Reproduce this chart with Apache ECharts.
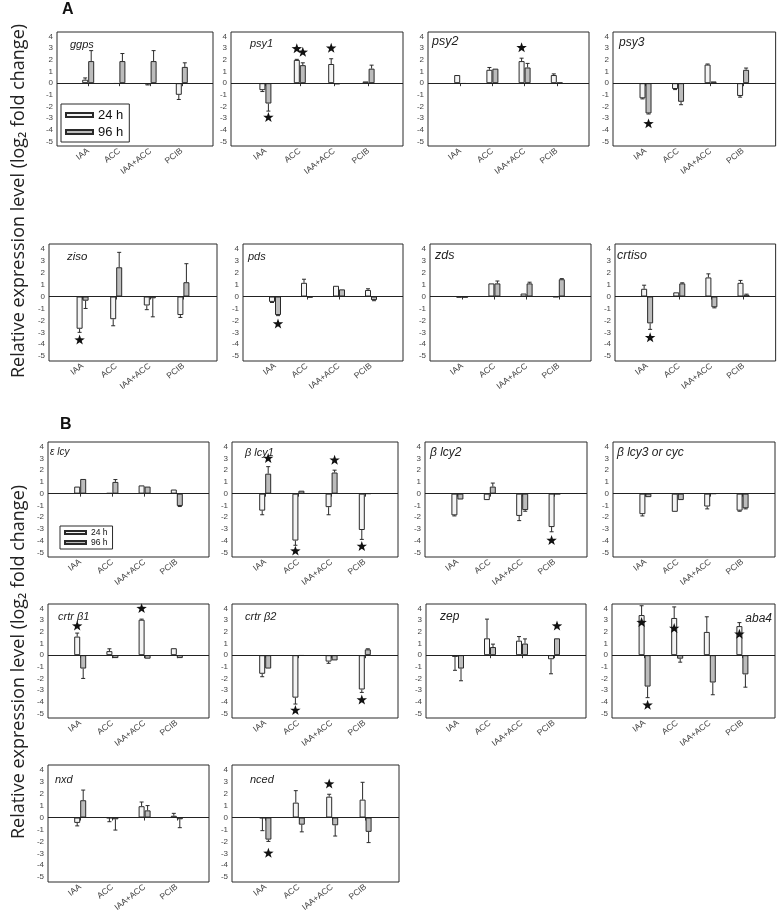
<!DOCTYPE html>
<html><head><meta charset="utf-8">
<script src="https://cdn.jsdelivr.net/npm/echarts@6/dist/echarts.min.js"></script>
<style>html,body{margin:0;padding:0;background:#fff}#c{width:778px;height:916px}</style>
</head><body><div id="c"></div>
<script>
// ---------- data ----------
const categories = ['', 'IAA', 'ACC', 'IAA+ACC', 'PCIB', ''];
const seriesNames = ['24 h', '96 h'];
const yTicks = [-5, -4, -3, -2, -1, 0, 1, 2, 3, 4];

// Panel A
const ggps24 = [0.3, -0.05, -0.1, -1.0],   ggps24Err = [0.15, 0, 0.05, 0.4];
const ggps96 = [1.9, 1.9, 1.9, 1.4],       ggps96Err = [0.9, 0.65, 0.9, 0.35];
const ggpsStar24 = [null, null, null, null], ggpsStar96 = [null, null, null, null];

const psy124 = [-0.6, 2.0, 1.65, 0.15],    psy124Err = [0.12, 0.05, 0.45, 0];
const psy196 = [-1.75, 1.55, -0.1, 1.25],  psy196Err = [0.65, 0.2, 0, 0.3];
const psy1Star24 = [null, 2.95, 3.0, null], psy1Star96 = [-2.95, 2.65, null, null];

const psy224 = [0.7, 1.15, 1.9, 0.7],      psy224Err = [0, 0.2, 0.25, 0.1];
const psy296 = [-0.05, 1.25, 1.35, 0.05],  psy296Err = [0, 0, 0.35, 0];
const psy2Star24 = [null, null, 3.05, null], psy2Star96 = [null, null, null, null];

const psy324 = [-1.3, -0.5, 1.6, -1.1],    psy324Err = [0.05, 0.05, 0.05, 0.1];
const psy396 = [-2.6, -1.6, 0.15, 1.15],   psy396Err = [0.05, 0.25, 0, 0.15];
const psy3Star24 = [null, null, null, null], psy3Star96 = [-3.5, null, null, null];

const ziso24 = [-2.7, -1.9, -0.75, -1.55], ziso24Err = [0.3, 0.55, 0.35, 0.2];
const ziso96 = [-0.35, 2.45, -0.15, 1.2],  ziso96Err = [0.65, 1.25, 1.55, 1.55];
const zisoStar24 = [-3.65, null, null, null], zisoStar96 = [null, null, null, null];

const pds24 = [-0.45, 1.15, 0.9, 0.55],    pds24Err = [0.05, 0.3, 0, 0.1];
const pds96 = [-1.55, -0.1, 0.6, -0.3],    pds96Err = [0.05, 0, 0, 0.05];
const pdsStar24 = [null, null, null, null], pdsStar96 = [-2.3, null, null, null];

const zds24 = [-0.1, 1.1, 0.25, -0.05],    zds24Err = [0, 0, 0, 0];
const zds96 = [-0.1, 1.1, 1.1, 1.45],      zds96Err = [0, 0.2, 0.1, 0.05];
const zdsStar24 = [null, null, null, null], zdsStar96 = [null, null, null, null];

const crtiso24 = [0.65, 0.35, 1.6, 1.15],  crtiso24Err = [0.3, 0, 0.3, 0.2];
const crtiso96 = [-2.25, 1.1, -0.9, 0.15], crtiso96Err = [0.5, 0.05, 0.05, 0.05];
const crtisoStar24 = [null, null, null, null], crtisoStar96 = [-3.45, null, null, null];

// Panel B
const elcy24 = [0.6, 0.05, 0.7, 0.35],     elcy24Err = [0, 0, 0, 0];
const elcy96 = [1.25, 1.0, 0.6, -1.05],    elcy96Err = [0, 0.2, 0, 0.05];
const elcyStar24 = [null, null, null, null], elcyStar96 = [null, null, null, null];

const blcy124 = [-1.45, -4.0, -1.15, -3.1], blcy124Err = [0.35, 0.4, 0.65, 0.8];
const blcy196 = [1.7, 0.25, 1.8, 0],        blcy196Err = [0.6, 0, 0.2, 0];
const blcy1Star24 = [null, -4.9, null, -4.5], blcy1Star96 = [3.0, null, 2.85, null];

const blcy224 = [-1.85, -0.55, -1.9, -2.85], blcy224Err = [0.05, 0, 0.4, 0.4];
const blcy296 = [-0.5, 0.6, -1.4, -0.05],    blcy296Err = [0, 0.3, 0.1, 0];
const blcy2Star24 = [null, null, null, -4.0], blcy2Star96 = [null, null, null, null];

const blcy324 = [-1.75, -1.55, -1.1, -1.45], blcy324Err = [0.15, 0, 0.2, 0.05];
const blcy396 = [-0.3, -0.55, 0, -1.25],     blcy396Err = [0, 0, 0, 0.05];
const blcy3Star24 = [null, null, null, null], blcy3Star96 = [null, null, null, null];

const crtrb124 = [1.6, 0.35, 3.05, 0.6],     crtrb124Err = [0.3, 0.2, 0.05, 0];
const crtrb196 = [-1.15, -0.25, -0.3, -0.25], crtrb196Err = [0.85, 0, 0, 0];
const crtrb1Star24 = [2.5, null, 4.0, null], crtrb1Star96 = [null, null, null, null];

const crtrb224 = [-1.6, -3.65, -0.55, -2.95], crtrb224Err = [0.25, 0.55, 0.15, 0.25];
const crtrb296 = [-1.15, -0.05, -0.45, 0.5],  crtrb296Err = [0, 0, 0, 0.05];
const crtrb2Star24 = [null, -4.75, null, -3.85], crtrb2Star96 = [null, null, null, null];

const zep24 = [-0.15, 1.45, 1.25, -0.35],    zep24Err = [1.15, 1.65, 0.35, 1.25];
const zep96 = [-1.15, 0.7, 1.0, 1.45],       zep96Err = [1.05, 0.25, 0.4, 0];
const zepStar24 = [null, null, null, null],  zepStar96 = [null, null, null, 2.5];

const aba424 = [3.45, 3.2, 2.0, 2.5],        aba424Err = [0.8, 0.95, 1.3, 0.3];
const aba496 = [-2.7, -0.3, -2.35, -1.65],   aba496Err = [0.95, 0.3, 1.05, 1.1];
const aba4Star24 = [2.8, 2.3, null, 1.8],    aba4Star96 = [-4.3, null, null, null];

const nxd24 = [-0.45, -0.05, 0.95, 0.15],    nxd24Err = [0.25, 0.3, 0.35, 0.2];
const nxd96 = [1.45, -0.15, 0.6, -0.15],     nxd96Err = [0.85, 0.9, 0.4, 0.7];
const nxdStar24 = [null, null, null, null],  nxdStar96 = [null, null, null, null];

const nced24 = [-0.05, 1.25, 1.75, 1.5],     nced24Err = [1.05, 1.0, 0.2, 1.45];
const nced96 = [-1.85, -0.6, -0.65, -1.2],   nced96Err = [0.15, 0.6, 0.9, 0.9];
const ncedStar24 = [null, null, 2.8, null],  ncedStar96 = [-3.0, null, null, null];

// ---------- panels ----------
const panels = [
  ['ggps', ggps24, ggps24Err, ggps96, ggps96Err, ggpsStar24, ggpsStar96],
  ['psy1', psy124, psy124Err, psy196, psy196Err, psy1Star24, psy1Star96],
  ['psy2', psy224, psy224Err, psy296, psy296Err, psy2Star24, psy2Star96],
  ['psy3', psy324, psy324Err, psy396, psy396Err, psy3Star24, psy3Star96],
  ['ziso', ziso24, ziso24Err, ziso96, ziso96Err, zisoStar24, zisoStar96],
  ['pds', pds24, pds24Err, pds96, pds96Err, pdsStar24, pdsStar96],
  ['zds', zds24, zds24Err, zds96, zds96Err, zdsStar24, zdsStar96],
  ['crtiso', crtiso24, crtiso24Err, crtiso96, crtiso96Err, crtisoStar24, crtisoStar96],
  ['ε lcy', elcy24, elcy24Err, elcy96, elcy96Err, elcyStar24, elcyStar96],
  ['β lcy1', blcy124, blcy124Err, blcy196, blcy196Err, blcy1Star24, blcy1Star96],
  ['β lcy2', blcy224, blcy224Err, blcy296, blcy296Err, blcy2Star24, blcy2Star96],
  ['β lcy3 or cyc', blcy324, blcy324Err, blcy396, blcy396Err, blcy3Star24, blcy3Star96],
  ['crtr β1', crtrb124, crtrb124Err, crtrb196, crtrb196Err, crtrb1Star24, crtrb1Star96],
  ['crtr β2', crtrb224, crtrb224Err, crtrb296, crtrb296Err, crtrb2Star24, crtrb2Star96],
  ['zep', zep24, zep24Err, zep96, zep96Err, zepStar24, zepStar96],
  ['aba4', aba424, aba424Err, aba496, aba496Err, aba4Star24, aba4Star96],
  ['nxd', nxd24, nxd24Err, nxd96, nxd96Err, nxdStar24, nxdStar96],
  ['nced', nced24, nced24Err, nced96, nced96Err, ncedStar24, ncedStar96]
];

// layout: [left, top, width, height, labelDx, labelDy, labelSize, alignRight]
const layout = [
  [57, 32, 156, 114, 13, 7, 11],
  [231, 32, 172, 114, 19, 6, 11],
  [428, 32, 161, 114, 4, 3, 12.5],
  [613, 32, 163, 114, 6, 5, 12],
  [49, 244, 168, 117, 18, 7, 11.5],
  [243, 244, 160, 117, 5, 7, 11],
  [430, 244, 161, 117, 5, 5, 12.5],
  [615, 244, 161, 117, 2, 5, 12.5],
  [48, 442, 161, 115, 2, 5, 10],
  [232, 442, 166, 115, 13, 5, 11],
  [425, 442, 162, 115, 5, 5, 12],
  [613, 442, 162, 115, 4, 5, 12],
  [48, 604, 161, 114, 10, 7, 11],
  [232, 604, 166, 114, 13, 7, 11],
  [426, 604, 160, 114, 14, 7, 12],
  [612, 604, 163, 114, -3, 9, 12, true],
  [48, 765, 161, 117, 7, 9, 11],
  [232, 765, 167, 117, 18, 9, 11]
];

const Y_MIN = -5.4, Y_MAX = 4.4, BAR_W = 6;
const WHITE = '#f4f4f4', GREY = '#bcbcbc', EDGE = '#2a2a2a';

function pad(arr) { return [null].concat(arr.map(v => v), [null]); }

function starPoints(cx, cy, R, r) {
  const pts = [];
  for (let k = 0; k < 10; k++) {
    const a = -Math.PI / 2 + k * Math.PI / 5;
    const rr = k % 2 === 0 ? R : r;
    pts.push([cx + rr * Math.cos(a), cy + rr * Math.sin(a)]);
  }
  return pts;
}

const grids = [], xAxes = [], yAxes = [], series = [], titles = [];
panels.forEach((p, i) => {
  const [name, v24, e24, v96, e96, s24, s96] = p;
  const L = layout[i];
  grids.push({ left: L[0], top: L[1], width: L[2], height: L[3], show: true,
    borderColor: EDGE, borderWidth: 1, backgroundColor: '#fff' });
  xAxes.push({ type: 'category', gridIndex: i, data: categories, boundaryGap: false,
    axisLine: { show: false },
    axisTick: { show: true, length: 3, interval: (idx) => categories[idx] !== '', lineStyle: { color: '#333' } },
    axisLabel: { interval: 0, rotate: 38, fontSize: 8.5, color: '#444', margin: 4, fontFamily: 'Arial' },
    splitLine: { show: false } });
  yAxes.push({ type: 'value', gridIndex: i, min: Y_MIN, max: Y_MAX,
    axisLine: { show: false }, axisTick: { show: false }, splitLine: { show: false },
    axisLabel: { customValues: yTicks, fontSize: 8, color: '#444', margin: 4, fontFamily: 'Arial' } });

  series.push({ name: seriesNames[0], type: 'bar', xAxisIndex: i, yAxisIndex: i,
    data: pad(v24), barWidth: BAR_W, barGap: '0%',
    itemStyle: { color: WHITE, borderColor: EDGE, borderWidth: 1 },
    markLine: { silent: true, symbol: 'none', label: { show: false },
      lineStyle: { color: '#222', width: 1, type: 'solid' }, data: [{ yAxis: 0 }] } });
  series.push({ name: seriesNames[1], type: 'bar', xAxisIndex: i, yAxisIndex: i,
    data: pad(v96), barWidth: BAR_W, barGap: '0%',
    itemStyle: { color: GREY, borderColor: EDGE, borderWidth: 1 } });

  const errData = [];
  [[v24, e24, 0], [v96, e96, 1]].forEach(([v, e, s]) => {
    v.forEach((val, k) => { if (e[k] > 0) errData.push([k + 1, val, e[k], s]); });
  });
  series.push({ type: 'custom', xAxisIndex: i, yAxisIndex: i, data: errData, z: 5, clip: false,
    encode: { x: 0, y: 1 }, silent: true,
    renderItem: (params, api) => {
      const c = api.value(0), v = api.value(1), e = api.value(2), s = api.value(3);
      const sign = v < 0 ? -1 : 1;
      const off = (s === 0 ? -1 : 1) * BAR_W / 2;
      const p0 = api.coord([c, v]);
      const p1 = api.coord([c, v + sign * e]);
      const x = p0[0] + off;
      const st = { stroke: EDGE, lineWidth: 1 };
      return { type: 'group', children: [
        { type: 'line', shape: { x1: x, y1: p0[1], x2: x, y2: p1[1] }, style: st },
        { type: 'line', shape: { x1: x - 2, y1: p1[1], x2: x + 2, y2: p1[1] }, style: st }
      ] };
    } });

  const starData = [];
  [[s24, 0], [s96, 1]].forEach(([arr, s]) => {
    arr.forEach((val, k) => { if (val !== null) starData.push([k + 1, val, s]); });
  });
  series.push({ type: 'custom', xAxisIndex: i, yAxisIndex: i, data: starData, z: 6, clip: false,
    encode: { x: 0, y: 1 }, silent: true,
    renderItem: (params, api) => {
      const c = api.value(0), y = api.value(1), s = api.value(2);
      const off = (s === 0 ? -1 : 1) * BAR_W / 2;
      const pt = api.coord([c, y]);
      return { type: 'polygon', shape: { points: starPoints(pt[0] + off, pt[1], 5.5, 2.2) },
        style: { fill: '#111' } };
    } });

  const t = { text: name, top: L[1] + L[5],
    textStyle: { fontStyle: 'italic', fontWeight: 'normal', fontSize: L[6], color: '#222', fontFamily: 'Arial' },
    padding: 0 };
  if (L[7]) { t.right = 778 - (L[0] + L[2]) - L[4]; } else { t.left = L[0] + L[4]; }
  titles.push(t);
});

const legendBase = { orient: 'vertical', icon: 'rect', selectedMode: false, data: seriesNames,
  borderColor: EDGE, borderWidth: 1, backgroundColor: '#fff', z: 10 };

const option = {
  animation: false,
  backgroundColor: '#fff',
  title: titles,
  grid: grids, xAxis: xAxes, yAxis: yAxes, series: series,
  legend: [
    Object.assign({}, legendBase, { left: 61, top: 104, itemWidth: 27, itemHeight: 4, itemGap: 3,
      padding: [4, 6, 3, 4], textStyle: { fontSize: 13, color: '#111', fontFamily: 'Arial', lineHeight: 14 } }),
    Object.assign({}, legendBase, { left: 60, top: 526, itemWidth: 21, itemHeight: 3, itemGap: 1,
      padding: [2, 5, 2, 4], textStyle: { fontSize: 8.5, color: '#111', fontFamily: 'Arial', lineHeight: 9 } })
  ],
  graphic: [
    { type: 'text', left: 62, top: 2, style: { text: 'A', font: 'bold 16px Arial', fill: '#111' } },
    { type: 'text', left: 60, top: 417, style: { text: 'B', font: 'bold 16px Arial', fill: '#111' } },
    { type: 'text', x: 19, y: 201, rotation: Math.PI / 2,
      style: { text: 'Relative expression level (log\u2082 fold change)', font: '18px "Open Sans"', fill: '#222',
        align: 'center', verticalAlign: 'middle' } },
    { type: 'text', x: 19, y: 662, rotation: Math.PI / 2,
      style: { text: 'Relative expression level (log\u2082 fold change)', font: '18px "Open Sans"', fill: '#222',
        align: 'center', verticalAlign: 'middle' } }
  ]
};

const chart = echarts.init(document.getElementById('c'), null, { renderer: 'canvas' });
chart.setOption(option);
</script></body></html>
